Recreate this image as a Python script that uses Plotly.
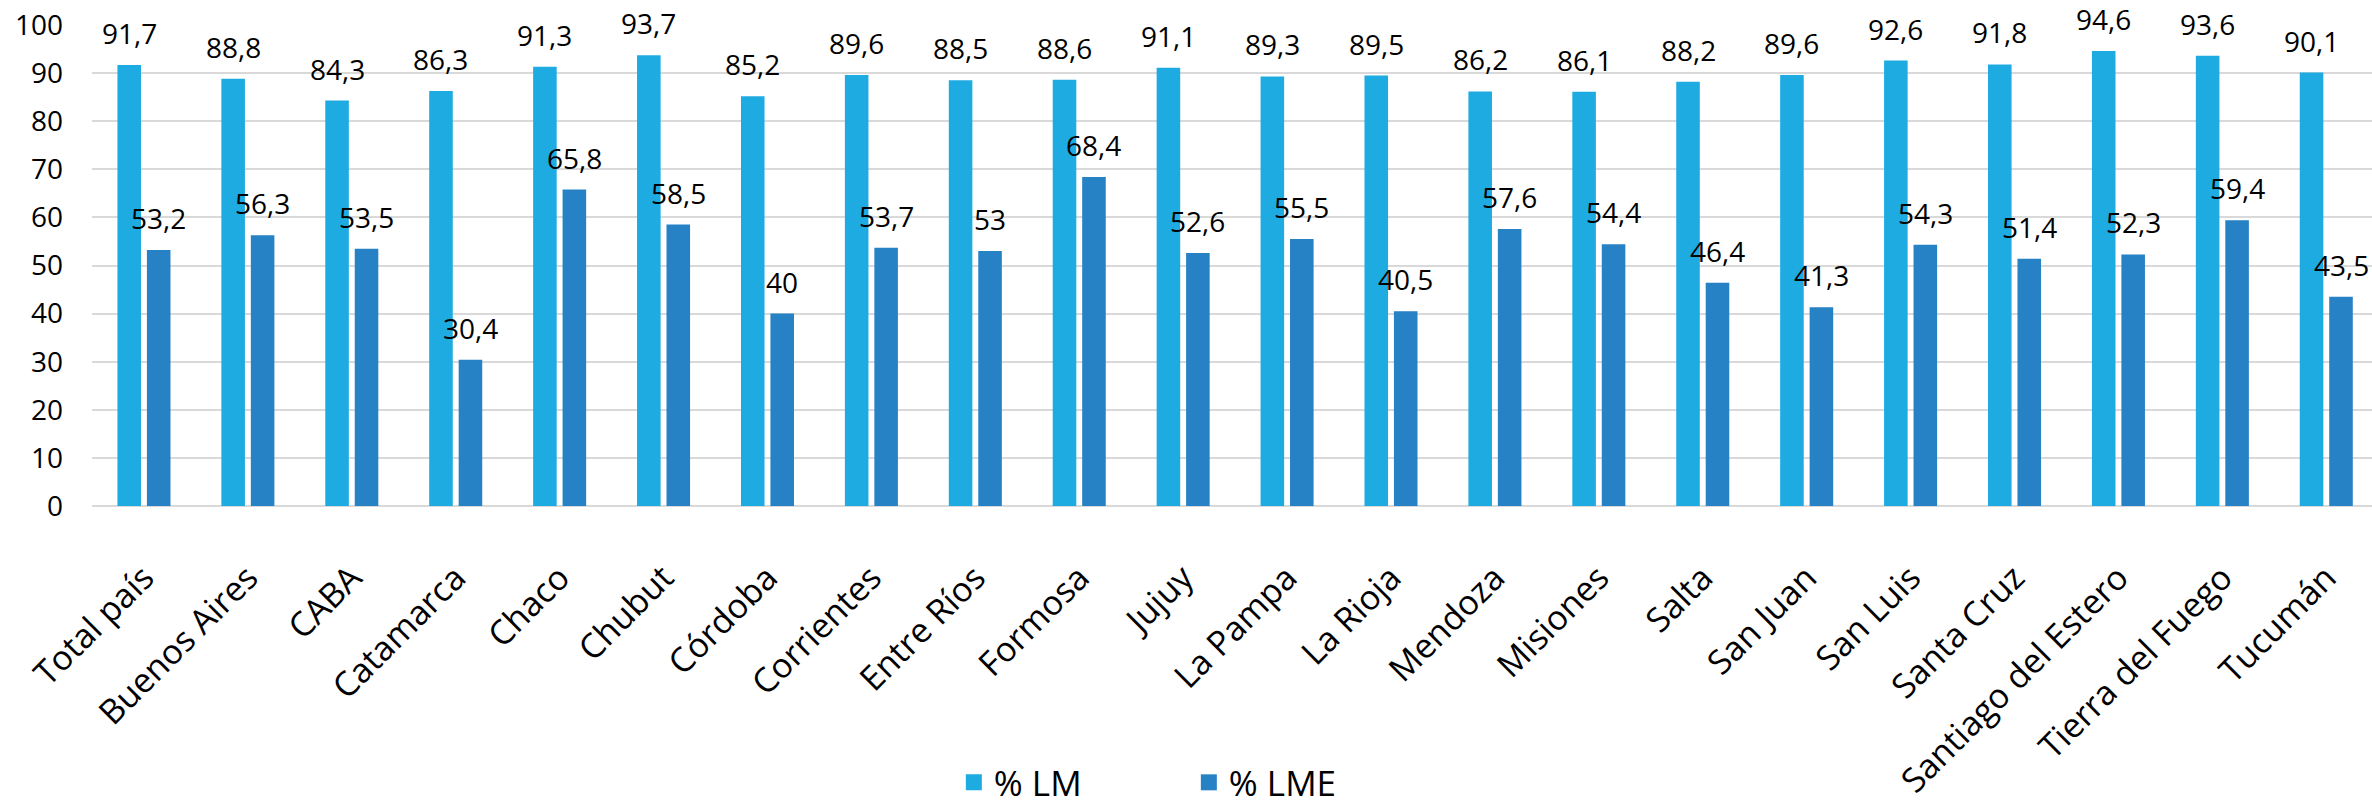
import plotly.graph_objects as go

categories = ["Total país", "Buenos Aires", "CABA", "Catamarca", "Chaco", "Chubut",
              "Córdoba", "Corrientes", "Entre Ríos", "Formosa", "Jujuy", "La Pampa",
              "La Rioja", "Mendoza", "Misiones", "Salta", "San Juan", "San Luis",
              "Santa Cruz", "Santiago del Estero", "Tierra del Fuego", "Tucumán"]
lm_values = [91.7, 88.8, 84.3, 86.3, 91.3, 93.7, 85.2, 89.6, 88.5, 88.6, 91.1,
             89.3, 89.5, 86.2, 86.1, 88.2, 89.6, 92.6, 91.8, 94.6, 93.6, 90.1]
lme_values = [53.2, 56.3, 53.5, 30.4, 65.8, 58.5, 40, 53.7, 53, 68.4, 52.6,
              55.5, 40.5, 57.6, 54.4, 46.4, 41.3, 54.3, 51.4, 52.3, 59.4, 43.5]
series_names = ["% LM", "% LME"]
y_ticks = [0, 10, 20, 30, 40, 50, 60, 70, 80, 90, 100]

C_LM = "#1EABE2"
C_LME = "#2681C5"
FONT = "Open Sans"

def fmt(v):
    if float(v).is_integer():
        return str(int(v))
    return ("%.1f" % v).replace(".", ",")

fig = go.Figure()
fig.add_trace(go.Bar(x=categories, y=lm_values, name=series_names[0],
                     marker=dict(color=C_LM, line=dict(width=0)), showlegend=False))
fig.add_trace(go.Bar(x=categories, y=lme_values, name=series_names[1],
                     marker=dict(color=C_LME, line=dict(width=0)), showlegend=False))
# legend entries with larger square symbols
for nm, col in zip(series_names, [C_LM, C_LME]):
    fig.add_trace(go.Scatter(x=[None], y=[None], mode="markers", name=nm,
                             marker=dict(symbol="square", size=16, color=col)))

offset = 14.75
for cat, v in zip(categories, lm_values):
    fig.add_annotation(x=cat, y=v, text=fmt(v), showarrow=False, xshift=-offset,
                       yanchor="bottom", yshift=11,
                       font=dict(family=FONT, size=28, color="black"))
for cat, v in zip(categories, lme_values):
    fig.add_annotation(x=cat, y=v, text=fmt(v), showarrow=False, xshift=offset,
                       yanchor="bottom", yshift=11,
                       font=dict(family=FONT, size=28, color="black"))

fig.update_layout(
    width=2372, height=806,
    margin=dict(l=92, r=0, t=25, b=300, autoexpand=False),
    paper_bgcolor="white", plot_bgcolor="white",
    barmode="group", bargap=0.433, bargroupgap=0.2,
    font=dict(family=FONT, color="black"),
    showlegend=True,
    legend=dict(orientation="h", x=0.378, xanchor="left", y=-0.575, yanchor="middle",
                font=dict(family=FONT, size=35, color="black"),
                entrywidth=190, entrywidthmode="pixels", itemsizing="trace",
                bgcolor="rgba(0,0,0,0)"),
)
fig.update_xaxes(range=[-0.5, 21.44], tickangle=-45, showgrid=False, showline=False,
                 ticks="", tickfont=dict(family=FONT, size=34, color="black"),
                 ticklabelstandoff=44, automargin=False)
fig.update_yaxes(range=[0, 100], tickvals=y_ticks, showgrid=True, gridcolor="#D9D9D9",
                 gridwidth=1.5, zeroline=True, zerolinecolor="#D9D9D9", zerolinewidth=1.5,
                 showline=False, ticks="", tickfont=dict(family=FONT, size=28, color="black"),
                 ticklabelstandoff=28, automargin=False)

fig.write_html("out.html")
